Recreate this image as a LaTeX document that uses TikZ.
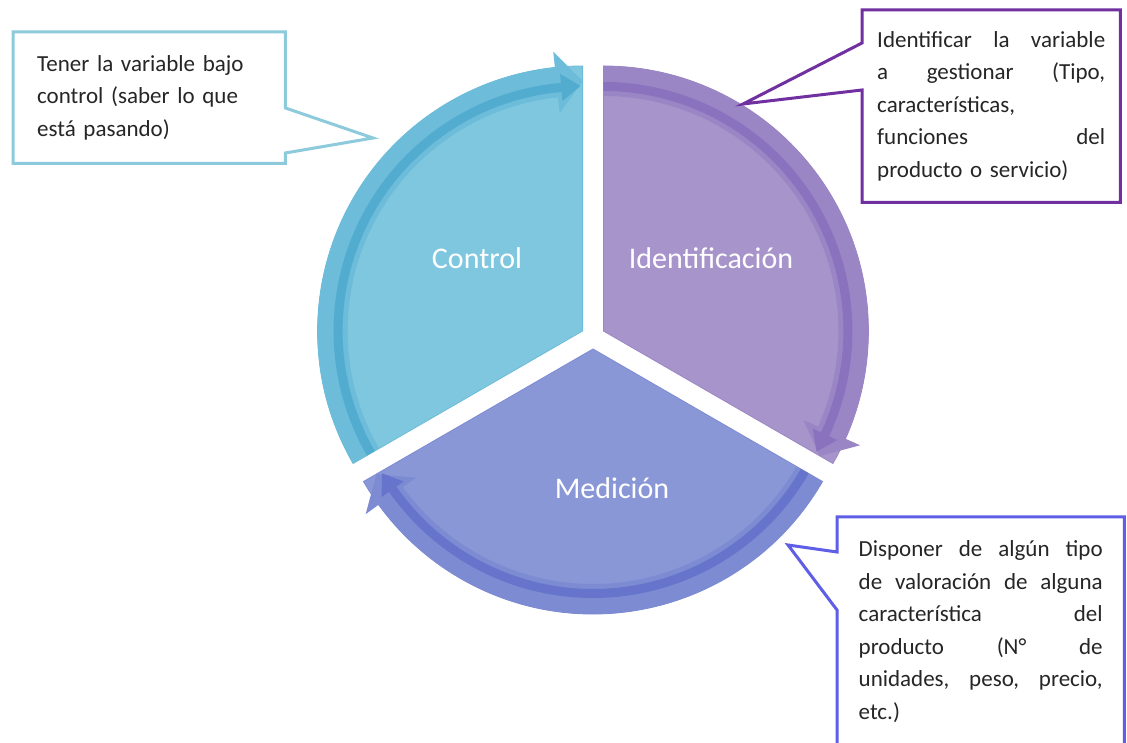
\documentclass[tikz,border=0pt]{standalone}
\usepackage{fontspec}
\setmainfont{Carlito}
\usepackage{xcolor}
\usepackage{tikz}
\usetikzlibrary{backgrounds}

\definecolor{ctrlfill}{HTML}{7FC7DF}
\definecolor{ctrlband}{HTML}{6CBCDA}
\definecolor{ctrldark}{HTML}{52ACCF}
\definecolor{identfill}{HTML}{A794CB}
\definecolor{identband}{HTML}{9B86C5}
\definecolor{identdark}{HTML}{8A72BE}
\definecolor{medfill}{HTML}{8997D7}
\definecolor{medband}{HTML}{7D8BD2}
\definecolor{meddark}{HTML}{6675CB}
\definecolor{noteblue}{HTML}{8DCADB}
\definecolor{notepurple}{HTML}{7030A0}
\definecolor{noteindigo}{HTML}{5E5EE6}

\newcommand{\jline}[2][228pt]{\leavevmode\hbox to #1{\spaceskip=0.22em plus 1fil\relax #2}}
\newcommand{\wheelpart}[5]{%
  \begin{scope}[shift={#1}]
    \fill[#3, draw=#4, line width=0.8pt] (0,0) -- (#2:265) arc[start angle=#2, end angle={#2-120}, radius=265] -- cycle;
    \fill[#4] (#2:265) arc[start angle=#2, end angle={#2-114}, radius=265] -- ({#2-114}:281) -- ({#2-120}:250) -- ({#2-114}:219) -- ({#2-114}:235) arc[start angle={#2-114}, end angle=#2, radius=235] -- cycle;
    \fill[#5] (#2:249) arc[start angle=#2, end angle={#2-115}, radius=249] -- ({#2-115}:258) -- ({#2-119.5}:245) -- ({#2-115}:231) -- ({#2-115}:240) arc[start angle={#2-115}, end angle=#2, radius=240] -- cycle;
  \end{scope}}

\begin{document}
\begin{tikzpicture}[x=1pt, y=1pt,
  note/.style={anchor=north west, align=left, text=black!85, font=\fontsize{23}{32.5}\selectfont},
  noteline/.style={fill=white, line width=3pt},
  partlabel/.style={text=white, font=\fontsize{30}{36}\selectfont}]
\useasboundingbox (0,0) rectangle (1127,743);

\node[partlabel] (ctrl) at (477,485) {Control};
\node[partlabel] (ident) at (711,485) {Identificación};
\node[partlabel] (med) at (612,255) {Medición};

\node[note, minimum width=272pt, minimum height=131pt, text width=224pt, inner xsep=24pt] (n1) at (13,711) {Tener la variable bajo\\control (saber lo que\\está pasando)};
\node[note, minimum width=258pt, minimum height=192pt, text width=228pt, inner xsep=15pt] (n2) at (862,733) {\jline{Identificar la variable}\\
\jline{a gestionar (Tipo,}\\
características,\\
\jline{funciones del}\\
producto o servicio)};
\node[note, minimum width=287pt, minimum height=229pt, text width=244pt, inner xsep=21.5pt] (n3) at (837,226) {\jline[244pt]{Disponer de algún tipo}\\
\jline[244pt]{de valoración de alguna}\\
\jline[244pt]{característica del}\\
\jline[244pt]{producto (N° de}\\
\jline[244pt]{unidades, peso, precio,}\\
etc.)};

\coordinate (tip1) at (373,605);
\coordinate (tip2) at (743,639);
\coordinate (tip3) at (788,198);

\begin{pgfonlayer}{background}
\fill[white] (0,0) rectangle (1127,743);
\wheelpart{(582.6,412)}{210}{ctrlfill}{ctrlband}{ctrldark}
\wheelpart{(603.4,412)}{90}{identfill}{identband}{identdark}
\wheelpart{(593,394)}{330}{medfill}{medband}{meddark}
\draw[noteline, draw=noteblue] (n1.north west) -- (n1.north east) -- ([yshift=-76pt]n1.north east) -- (tip1) -- ([yshift=-121pt]n1.north east) -- (n1.south east) -- (n1.south west) -- cycle;
\draw[noteline, draw=notepurple] (n2.north west) -- ([yshift=-33pt]n2.north west) -- (tip2) -- ([yshift=-80pt]n2.north west) -- (n2.south west) -- (n2.south east) -- (n2.north east) -- cycle;
\draw[noteline, draw=noteindigo] (n3.north west) -- ([yshift=-35pt]n3.north west) -- (tip3) -- ([yshift=-93pt]n3.north west) -- (n3.south west) -- (n3.south east) -- (n3.north east) -- cycle;
\end{pgfonlayer}
\end{tikzpicture}
\end{document}
